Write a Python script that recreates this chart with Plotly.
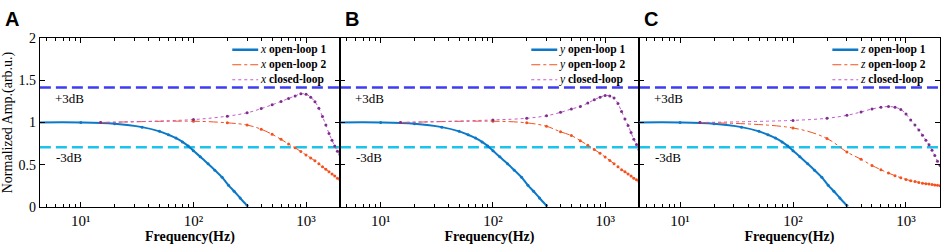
import plotly.graph_objects as go

# ---------------- data ----------------
FREQ_OL1 = [4, 10, 20, 35, 50, 60, 70, 80, 90, 100, 115, 135, 155, 180, 205, 230, 260, 300]
AMP_OL1_X = [1.0, 1.0, 0.985, 0.945, 0.895, 0.855, 0.815, 0.77, 0.72, 0.665, 0.595, 0.51, 0.435, 0.35, 0.255, 0.185, 0.105, 0.015]
AMP_OL1_Y = [1.0, 1.0, 0.985, 0.945, 0.895, 0.855, 0.815, 0.77, 0.72, 0.665, 0.595, 0.51, 0.435, 0.35, 0.255, 0.185, 0.105, 0.015]
AMP_OL1_Z = [1.0, 1.0, 0.985, 0.945, 0.895, 0.855, 0.815, 0.77, 0.72, 0.665, 0.595, 0.51, 0.435, 0.35, 0.255, 0.185, 0.105, 0.015]

FREQ_HF = [15, 100, 200, 300, 400, 500, 600, 700, 800, 900, 1000,
           1100, 1200, 1300, 1400, 1500, 1600, 1700, 1800, 1900, 2000]
AMP_OL2_X = [1.0, 1.015, 0.996, 0.97, 0.92, 0.86, 0.80, 0.745, 0.70, 0.655, 0.615,
             0.58, 0.545, 0.51, 0.475, 0.445, 0.415, 0.39, 0.365, 0.34, 0.32]
AMP_CL_X = [1.0, 1.035, 1.075, 1.115, 1.165, 1.21, 1.25, 1.285, 1.315, 1.34, 1.335,
            1.30, 1.245, 1.17, 1.07, 0.97, 0.87, 0.79, 0.72, 0.66, 0.62]
AMP_OL2_Y = [1.0, 1.015, 0.996, 0.955, 0.89, 0.845, 0.785, 0.73, 0.68, 0.635, 0.59,
             0.55, 0.51, 0.475, 0.44, 0.415, 0.39, 0.365, 0.34, 0.32, 0.30]
AMP_CL_Y = [1.0, 1.03, 1.05, 1.08, 1.12, 1.16, 1.19, 1.23, 1.27, 1.30, 1.32,
            1.315, 1.29, 1.225, 1.13, 1.04, 0.965, 0.88, 0.80, 0.74, 0.68]
AMP_OL2_Z = [1.0, 0.935, 0.81, 0.65, 0.565, 0.49, 0.44, 0.40, 0.37, 0.345, 0.325,
             0.31, 0.30, 0.29, 0.28, 0.275, 0.27, 0.265, 0.26, 0.255, 0.25]
AMP_CL_Z = [1.0, 1.025, 1.05, 1.085, 1.125, 1.16, 1.18, 1.19, 1.18, 1.155, 1.10,
            1.03, 0.97, 0.91, 0.85, 0.79, 0.735, 0.67, 0.61, 0.54, 0.49]

PANEL_LABELS = ["A", "B", "C"]
AXIS_NAMES = ["x", "y", "z"]
SERIES_NAMES = ["open-loop 1", "open-loop 2", "closed-loop"]
X_TICK_VALS = [10, 100, 1000]
X_TICK_TEXT = ["10¹", "10²", "10³"]
X_MINOR_VALS = [5, 6, 7, 8, 9, 20, 30, 40, 50, 60, 70, 80, 90,
                200, 300, 400, 500, 600, 700, 800, 900, 2000]
Y_TICK_VALS = [0, 0.5, 1, 1.5, 2]
Y_TICK_TEXT = ["0", "0.5", "1", "1.5", "2"]
PLUS_3DB = 1.4142
MINUS_3DB = 0.7071
X_LOG_RANGE = [0.6365, 3.301]
Y_RANGE = [0, 2]

# ---------------- styling / layout ----------------
W, H = 941, 249
# the page shows the figure 8 px lower and 16 px shorter than asked
TOP_OFF, DRAWN_H = 8, 233
LEFTS = [37, 338, 638]
RIGHTS = [338, 638, 940]
TOP, BOTTOM = 39, 207
SERIF = "Liberation Serif, Times New Roman, serif"
SANS = "Liberation Sans, Arial, sans-serif"
C_OL1 = "#0b78c8"
C_OL2 = "#f4511e"
C_CL_LINE = "#c35bd0"
C_CL_MK = "#7e2f8e"
C_P3 = "#3d3df2"
C_M3 = "#1ec3ea"
LEG_FONT = 11.5


def px(x):
    return x / W


def py(y):
    return 1 - (y - TOP_OFF) / DRAWN_H


ol1 = [AMP_OL1_X, AMP_OL1_Y, AMP_OL1_Z]
ol2 = [AMP_OL2_X, AMP_OL2_Y, AMP_OL2_Z]
cl = [AMP_CL_X, AMP_CL_Y, AMP_CL_Z]

fig = go.Figure()
shapes = []
annotations = []

for i in range(3):
    sfx = "" if i == 0 else str(i + 1)
    xa, ya = "x" + sfx, "y" + sfx
    fig.add_trace(go.Scatter(
        x=FREQ_OL1, y=ol1[i], xaxis=xa, yaxis=ya, mode="lines+markers",
        line=dict(color=C_OL1, width=2, shape="spline"),
        marker=dict(color=C_OL1, size=3), showlegend=False,
        name=AXIS_NAMES[i] + " " + SERIES_NAMES[0]))
    fig.add_trace(go.Scatter(
        x=FREQ_HF, y=ol2[i], xaxis=xa, yaxis=ya, mode="lines+markers",
        line=dict(color=C_OL2, width=1, dash="dashdot", shape="spline"),
        marker=dict(color=C_OL2, size=3), showlegend=False,
        name=AXIS_NAMES[i] + " " + SERIES_NAMES[1]))
    fig.add_trace(go.Scatter(
        x=FREQ_HF, y=cl[i], xaxis=xa, yaxis=ya, mode="lines+markers",
        line=dict(color=C_CL_LINE, width=1, dash="dot", shape="spline"),
        marker=dict(color=C_CL_MK, size=3), showlegend=False,
        name=AXIS_NAMES[i] + " " + SERIES_NAMES[2]))

    dom = [px(LEFTS[i]), px(RIGHTS[i])]
    yaxis = dict(
        domain=[py(BOTTOM), py(TOP)], range=Y_RANGE, anchor=xa,
        tickvals=Y_TICK_VALS, ticktext=Y_TICK_TEXT,
        showticklabels=(i == 0),
        ticks="inside", ticklen=5, tickcolor="black",
        showline=True, linecolor="black", linewidth=1, mirror="ticks",
        showgrid=False, zeroline=False,
        tickfont=dict(family=SERIF, size=14, color="black"),
    )
    if i == 0:
        yaxis["title"] = dict(text="Normalized Amp.(arb.u.)", standoff=9,
                              font=dict(family=SERIF, size=14, color="black"))
    fig.update_layout(**{
        "xaxis" + sfx: dict(
            domain=dom, type="log", range=X_LOG_RANGE, anchor=ya,
            tickvals=X_TICK_VALS, ticktext=X_TICK_TEXT,
            ticks="inside", ticklen=5, tickcolor="black",
            minor=dict(tickvals=X_MINOR_VALS, ticks="inside", ticklen=3,
                       tickcolor="black", showgrid=False),
            showline=True, linecolor="black", linewidth=1, mirror="ticks",
            showgrid=False, zeroline=False,
            tickfont=dict(family=SERIF, size=15, color="black"),
            title=dict(text="<b>Frequency(Hz)</b>", standoff=2,
                       font=dict(family=SERIF, size=14, color="black")),
        ),
        "yaxis" + sfx: yaxis,
    })

    # reference lines
    shapes.append(dict(type="line", xref=xa + " domain", x0=0, x1=1, yref=ya,
                       y0=PLUS_3DB, y1=PLUS_3DB, layer="below",
                       line=dict(color=C_P3, width=2.5, dash="11px,5px")))
    shapes.append(dict(type="line", xref=xa + " domain", x0=0, x1=1, yref=ya,
                       y0=MINUS_3DB, y1=MINUS_3DB, layer="below",
                       line=dict(color=C_M3, width=2.5, dash="11px,5px")))
    annotations.append(dict(text="+3dB", xref="paper", x=px(LEFTS[i] + 13), xanchor="left",
                            yref=ya, y=PLUS_3DB, yshift=-11, yanchor="middle",
                            showarrow=False, font=dict(family=SERIF, size=13, color="black")))
    annotations.append(dict(text="-3dB", xref="paper", x=px(LEFTS[i] + 14), xanchor="left",
                            yref=ya, y=MINUS_3DB, yshift=-10, yanchor="middle",
                            showarrow=False, font=dict(family=SERIF, size=13, color="black")))

    # panel label
    annotations.append(dict(text="<b>" + PANEL_LABELS[i] + "</b>", xref="paper", yref="paper",
                            x=px(LEFTS[i] - 36 if i == 0 else LEFTS[i] + 4), y=1,
                            xanchor="left", yanchor="top", showarrow=False, borderpad=0,
                            font=dict(family=SANS, size=20, color="black")))

    # manual legend (one multi-line text block per panel)
    R = RIGHTS[i]
    row_gap = LEG_FONT * 1.3
    mid = 65.5
    rows = [mid - row_gap, mid, mid + row_gap]
    styles = [dict(color=C_OL1, width=2.5), dict(color=C_OL2, width=1, dash="dashdot"),
              dict(color=C_CL_LINE, width=1, dash="dot")]
    for k in range(3):
        shapes.append(dict(type="line", xref="paper", yref="paper",
                           x0=px(R - 108), x1=px(R - 82), y0=py(rows[k]), y1=py(rows[k]),
                           line=styles[k]))
    annotations.append(dict(
        text="<br>".join("<i>" + AXIS_NAMES[i] + "</i> <b>" + s + "</b>" for s in SERIES_NAMES),
        xref="paper", yref="paper", x=px(R - 81), y=py(mid), align="left",
        xanchor="left", yanchor="middle", showarrow=False, borderpad=0,
        font=dict(family=SERIF, size=LEG_FONT, color="black")))

fig.update_layout(
    width=W, height=H, margin=dict(l=0, r=0, t=0, b=0),
    paper_bgcolor="white", plot_bgcolor="white",
    shapes=shapes, annotations=annotations, showlegend=False,
)

fig.write_html("out.html", config={"displayModeBar": False},
               post_script="document.body.style.margin='0px';document.body.style.overflow='hidden';")
